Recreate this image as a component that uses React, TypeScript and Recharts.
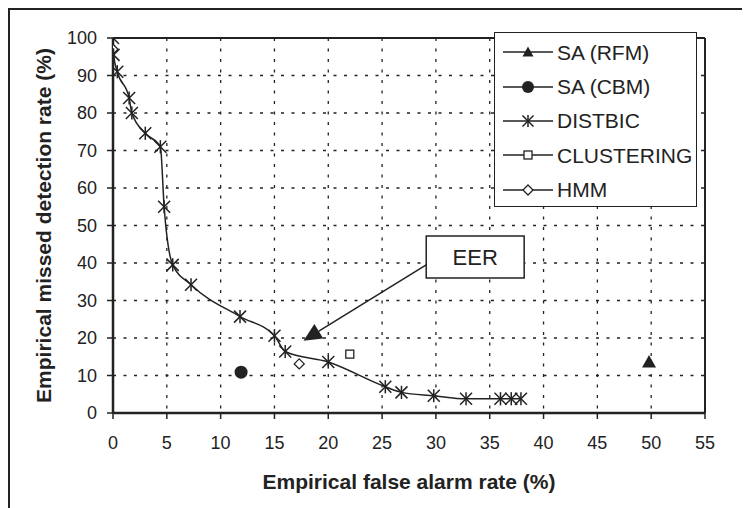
import React from 'react';
import {
  ComposedChart,
  Line,
  Scatter,
  XAxis,
  YAxis,
  CartesianGrid,
  ReferenceLine,
  ReferenceArea,
  Label,
  Legend,
} from 'recharts';

const FONT = '"Liberation Sans", Arial, sans-serif';
const INK = '#222';

const xTicks = [0, 5, 10, 15, 20, 25, 30, 35, 40, 45, 50, 55];
const yTicks = [0, 10, 20, 30, 40, 50, 60, 70, 80, 90, 100];

const distbic = [
  { x: 0, y: 100 },
  { x: 0.05, y: 95.5 },
  { x: 0.4, y: 91 },
  { x: 1.5, y: 84 },
  { x: 1.75, y: 80 },
  { x: 3.0, y: 74.6 },
  { x: 4.4, y: 71 },
  { x: 4.75, y: 55 },
  { x: 5.55, y: 39.5 },
  { x: 7.25, y: 34.2 },
  { x: 11.8, y: 25.7 },
  { x: 15.0, y: 20.6 },
  { x: 16.0, y: 16.4 },
  { x: 20.0, y: 13.6 },
  { x: 25.3, y: 7.0 },
  { x: 26.8, y: 5.5 },
  { x: 29.8, y: 4.6 },
  { x: 32.8, y: 3.8 },
  { x: 36.0, y: 3.8 },
  { x: 37.0, y: 3.8 },
  { x: 37.9, y: 3.8 },
];
const saRfm = [{ x: 49.8, y: 13.6 }];
const saCbm = [{ x: 11.9, y: 10.9 }];
const clustering = [{ x: 22.0, y: 15.7 }];
const hmm = [
  { x: 0, y: 97 },
  { x: 17.3, y: 13.1 },
];

// EER annotation: box and arrow in data units
const eerBox = { x1: 29.1, x2: 38.2, y1: 36, y2: 47.2 };
const eerArrow = [
  { x: 29.1, y: 39.5 },
  { x: 17.7, y: 19.3 },
];

const seriesNames = ['SA (RFM)', 'SA (CBM)', 'DISTBIC', 'CLUSTERING', 'HMM'];

function Marker({ kind, cx, cy, big }: { kind: string; cx: number; cy: number; big?: boolean }) {
  if (kind === 'SA (RFM)') {
    const s = big ? 7 : 5.5;
    return <polygon points={`${cx},${cy - s} ${cx + s},${cy + s * 0.8} ${cx - s},${cy + s * 0.8}`} fill={INK} />;
  }
  if (kind === 'SA (CBM)') {
    return <circle cx={cx} cy={cy} r={big ? 6.5 : 6} fill={INK} />;
  }
  if (kind === 'DISTBIC') {
    const s = big ? 6 : 5.5;
    return (
      <g stroke={INK} strokeWidth={1.5}>
        <line x1={cx - s} y1={cy - s} x2={cx + s} y2={cy + s} />
        <line x1={cx - s} y1={cy + s} x2={cx + s} y2={cy - s} />
        <line x1={cx} y1={cy - s * 1.1} x2={cx} y2={cy + s * 1.1} />
      </g>
    );
  }
  if (kind === 'CLUSTERING') {
    return <rect x={cx - 4} y={cy - 4} width={8} height={8} fill="#fff" stroke={INK} strokeWidth={1.3} />;
  }
  return (
    <polygon
      points={`${cx},${cy - 5} ${cx + 5},${cy} ${cx},${cy + 5} ${cx - 5},${cy}`}
      fill="#fff"
      stroke={INK}
      strokeWidth={1.3}
    />
  );
}

const shapeFor = (kind: string) => (p: any) => <Marker kind={kind} cx={p.cx} cy={p.cy} big />;

function ArrowShape(p: any) {
  const { x1, y1, x2, y2 } = p;
  const dx = x2 - x1;
  const dy = y2 - y1;
  const len = Math.sqrt(dx * dx + dy * dy);
  const ux = dx / len;
  const uy = dy / len;
  const hl = 18;
  const hw = 8.5;
  const bx = x2 - ux * hl;
  const by = y2 - uy * hl;
  return (
    <g>
      <line x1={x1} y1={y1} x2={bx} y2={by} stroke={INK} strokeWidth={1.5} />
      <polygon
        points={`${x2},${y2} ${bx - uy * hw},${by + ux * hw} ${bx + uy * hw},${by - ux * hw}`}
        fill={INK}
      />
    </g>
  );
}

function LegendBox() {
  return (
    <div
      style={{
        width: 201,
        height: 171,
        border: `1.5px solid ${INK}`,
        background: '#fff',
        paddingTop: 2,
        boxSizing: 'content-box',
        fontFamily: FONT,
      }}
    >
      {seriesNames.map((n) => (
        <div key={n} style={{ display: 'flex', alignItems: 'center', height: 34.4 }}>
          <svg width={54} height={20} style={{ marginLeft: 7, flex: 'none' }}>
            <line x1={1} y1={10} x2={51} y2={10} stroke={INK} strokeWidth={1.5} />
            <Marker kind={n} cx={26} cy={10} />
          </svg>
          <span style={{ fontSize: 21, color: INK, marginLeft: 1, lineHeight: 1 }}>{n}</span>
        </div>
      ))}
    </div>
  );
}

export default function App() {
  const tickStyle = { fontSize: 18, fill: INK, fontFamily: FONT };
  return (
    <div
      style={{
        width: 740,
        height: 498,
        borderTop: `2px solid ${INK}`,
        borderLeft: `2px solid ${INK}`,
        position: 'relative',
        fontFamily: FONT,
      }}
    >
      <ComposedChart width={740} height={498} margin={{ top: 28, right: 45, left: 0, bottom: 0 }}>
        <CartesianGrid stroke={INK} strokeWidth={1.3} strokeDasharray="3 7.5" />
        <XAxis
          type="number"
          dataKey="x"
          domain={[0, 55]}
          ticks={xTicks}
          interval={0}
          height={95}
          stroke={INK}
          strokeWidth={2.5}
          tickSize={6}
          tickMargin={17}
          tick={tickStyle}
          tickLine={{ stroke: INK, strokeWidth: 1.5 }}
          allowDataOverflow
        >
          <Label
            value="Empirical false alarm rate (%)"
            position="insideBottom"
            offset={19}
            style={{ fontSize: 21, fontWeight: 'bold', fill: INK, fontFamily: FONT }}
          />
        </XAxis>
        <YAxis
          type="number"
          dataKey="y"
          domain={[0, 100]}
          ticks={yTicks}
          interval={0}
          width={103}
          stroke={INK}
          strokeWidth={2.5}
          tickSize={6}
          tickMargin={10}
          tick={tickStyle}
          tickLine={{ stroke: INK, strokeWidth: 1.5 }}
          allowDataOverflow
        >
          <Label
            value="Empirical missed detection rate (%)"
            angle={-90}
            position="insideLeft"
            offset={34}
            style={{ fontSize: 21, fontWeight: 'bold', fill: INK, fontFamily: FONT, textAnchor: 'middle' }}
          />
        </YAxis>
        <ReferenceLine y={100} stroke={INK} strokeWidth={2} />
        <ReferenceLine x={55} stroke={INK} strokeWidth={2} />
        <ReferenceArea
          x1={eerBox.x1}
          x2={eerBox.x2}
          y1={eerBox.y1}
          y2={eerBox.y2}
          fill="#fff"
          fillOpacity={1}
          stroke={INK}
          strokeWidth={1.5}
          ifOverflow="visible"
        >
          <Label value="EER" position="center" style={{ fontSize: 22, fill: INK, fontFamily: FONT }} />
        </ReferenceArea>
        <ReferenceLine segment={eerArrow} shape={ArrowShape} ifOverflow="visible" />
        <Line
          name="DISTBIC"
          data={distbic}
          dataKey="y"
          type="monotone"
          stroke={INK}
          strokeWidth={1.5}
          dot={(p: any) => <Marker key={p.index} kind="DISTBIC" cx={p.cx} cy={p.cy} big />}
          activeDot={false}
          isAnimationActive={false}
        />
        <Scatter name="SA (RFM)" data={saRfm} dataKey="y" shape={shapeFor('SA (RFM)')} isAnimationActive={false} />
        <Scatter name="SA (CBM)" data={saCbm} dataKey="y" shape={shapeFor('SA (CBM)')} isAnimationActive={false} />
        <Scatter name="CLUSTERING" data={clustering} dataKey="y" shape={shapeFor('CLUSTERING')} isAnimationActive={false} />
        <Scatter name="HMM" data={hmm} dataKey="y" shape={shapeFor('HMM')} isAnimationActive={false} />
        <Legend
          layout="horizontal"
          verticalAlign="middle"
          align="center"
          content={() => <LegendBox />}
          wrapperStyle={{ left: 484, top: 22, width: 204, height: 178 }}
        />
      </ComposedChart>
    </div>
  );
}
